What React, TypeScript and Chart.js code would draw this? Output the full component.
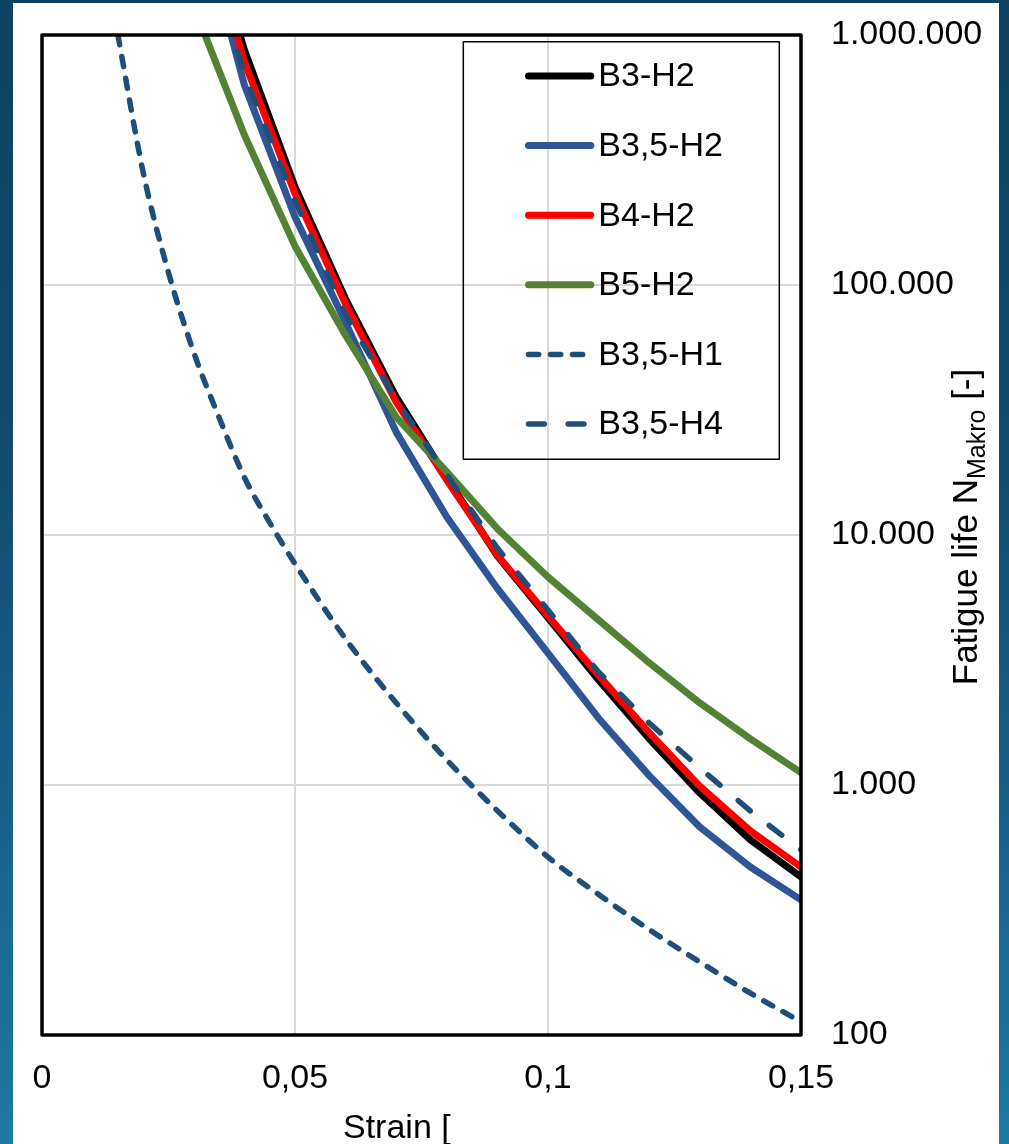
import React, { useEffect, useRef } from 'react';
import { Chart, registerables } from 'chart.js';

Chart.register(...registerables);

// ---- data ----
const STRAIN = [0.03, 0.04, 0.05, 0.06, 0.07, 0.08, 0.09, 0.1, 0.11, 0.12, 0.13, 0.14, 0.15];
const B3_H2 = [4270000, 871000, 247000, 87900, 35700, 17000, 8240, 4660, 2630, 1530, 929, 603, 429];
const B35_H2 = [3600000, 631000, 187000, 70800, 25800, 11800, 6110, 3370, 1850, 1090, 679, 470, 347];
const B4_H2 = [4000000, 780000, 232000, 84000, 34000, 16600, 8300, 4750, 2750, 1620, 990, 655, 470];
const B5_H2 = [1300000, 398000, 143000, 62800, 29600, 17900, 10600, 6790, 4570, 3080, 2130, 1530, 1120];
const B35_H4 = [3500000, 692000, 217000, 76000, 34700, 17400, 8870, 5010, 2830, 1770, 1170, 787, 550];

const STRAIN_H1 = [0.015, 0.02, 0.025, 0.03, 0.035, 0.04, 0.045, 0.05, 0.06, 0.07, 0.08, 0.09, 0.1, 0.11, 0.12, 0.13, 0.14, 0.15];
const B35_H1 = [1000000, 282000, 112000, 53700, 29500, 17000, 11200, 7670, 3840, 2130, 1260, 789, 515, 365, 264, 196, 147, 113];

const SERIES_LABELS = ['B3-H2', 'B3,5-H2', 'B4-H2', 'B5-H2', 'B3,5-H1', 'B3,5-H4'];

const X_TICKS = [0, 0.05, 0.1, 0.15];
const X_TICK_LABELS = ['0', '0,05', '0,1', '0,15'];
const Y_TICKS = [100, 1000, 10000, 100000, 1000000];
const Y_TICK_LABELS = ['100', '1.000', '10.000', '100.000', '1.000.000'];

const X_TITLE = 'Strain [';
const Y_TITLE_MAIN = 'Fatigue life N';
const Y_TITLE_SUB = 'Makro';
const Y_TITLE_END = ' [-]';

const FONT = "'Liberation Sans', Arial, sans-serif";

const toPts = (xs: number[], ys: number[]) => xs.map((x, i) => ({ x, y: ys[i] }));

export default function App() {
  const ref = useRef<HTMLCanvasElement | null>(null);

  useEffect(() => {
    const canvas = ref.current;
    if (!canvas) return;

    const mk = (label: string, data: any[], color: string, width: number, order: number, dash?: number[]) => ({
      label,
      data,
      borderColor: color,
      backgroundColor: color,
      borderWidth: width,
      borderDash: dash || [],
      borderCapStyle: 'round' as const,
      borderJoinStyle: 'round' as const,
      pointRadius: 0,
      pointHoverRadius: 0,
      fill: false,
      tension: 0,
      order,
      clip: 0,
    });

    const datasets: any[] = [
      mk(SERIES_LABELS[0], toPts(STRAIN, B3_H2), '#000000', 7, 6),
      mk(SERIES_LABELS[1], toPts(STRAIN, B35_H2), '#2f5597', 7, 5),
      mk(SERIES_LABELS[2], toPts(STRAIN, B4_H2), '#ff0000', 7, 4),
      mk(SERIES_LABELS[3], toPts(STRAIN, B5_H2), '#548235', 7, 3),
      { ...mk(SERIES_LABELS[4], toPts(STRAIN_H1, B35_H1), '#1f4e79', 5.5, 2, [10.2, 11.8]), cubicInterpolationMode: 'monotone' },
      mk(SERIES_LABELS[5], toPts(STRAIN, B35_H4), '#1f4e79', 5.5, 1, [15.8, 23.9]),
    ];

    const overlay = {
      id: 'overlay',
      afterDatasetsDraw(chart: any) {
        const { ctx, chartArea } = chart;
        const { left, right, top, bottom } = chartArea;
        ctx.save();
        // plot border
        ctx.strokeStyle = '#000000';
        ctx.lineWidth = 3.5;
        ctx.lineJoin = 'round';
        ctx.strokeRect(left, top, right - left, bottom - top);

        // legend
        ctx.lineWidth = 1.5;
        ctx.strokeRect(463.3, 41.7, 316, 417.6);
        chart.data.datasets.forEach((ds: any, i: number) => {
          const y = 76 + i * 69.6;
          ctx.beginPath();
          ctx.setLineDash(ds.borderDash || []);
          ctx.lineDashOffset = 0;
          ctx.lineCap = 'round';
          ctx.strokeStyle = ds.borderColor;
          ctx.lineWidth = ds.borderWidth;
          ctx.moveTo(528.5, y);
          ctx.lineTo(ds.borderDash && ds.borderDash.length ? 586 : 590.8, y);
          ctx.stroke();
          ctx.setLineDash([]);
          ctx.fillStyle = '#000000';
          ctx.font = `34px ${FONT}`;
          ctx.textAlign = 'left';
          ctx.textBaseline = 'middle';
          ctx.fillText(ds.label, 598.3, y + 1);
        });

        // x title
        ctx.fillStyle = '#000000';
        ctx.font = `34px ${FONT}`;
        ctx.textAlign = 'left';
        ctx.textBaseline = 'alphabetic';
        ctx.fillText(X_TITLE, 343, 1138);

        // y title (rotated, with subscript)
        const big = `35px ${FONT}`;
        const small = `25px ${FONT}`;
        ctx.font = big;
        const w1 = ctx.measureText(Y_TITLE_MAIN).width;
        const w3 = ctx.measureText(Y_TITLE_END).width;
        ctx.font = small;
        const w2 = ctx.measureText(Y_TITLE_SUB).width;
        const total = w1 + w2 + w3;
        const cy = 527;
        ctx.translate(977, cy + total / 2);
        ctx.rotate(-Math.PI / 2);
        ctx.font = big;
        ctx.fillText(Y_TITLE_MAIN, 0, 0);
        ctx.font = small;
        ctx.fillText(Y_TITLE_SUB, w1, 8);
        ctx.font = big;
        ctx.fillText(Y_TITLE_END, w1 + w2, 0);
        ctx.restore();
      },
    };

    const chart = new Chart(canvas, {
      type: 'line',
      data: { datasets },
      options: {
        responsive: false,
        animation: false,
        devicePixelRatio: 1,
        layout: { padding: { left: 42, top: 35, right: 0, bottom: 0 } },
        plugins: {
          legend: { display: false },
          tooltip: { enabled: false },
          title: { display: false },
        },
        events: [],
        scales: {
          x: {
            type: 'linear',
            min: 0,
            max: 0.15,
            afterBuildTicks: (s: any) => {
              s.ticks = X_TICKS.map((v) => ({ value: v }));
            },
            afterFit: (s: any) => {
              s.height = 109;
              s.paddingLeft = 0;
              s.paddingRight = 0;
            },
            ticks: {
              autoSkip: false,
              maxRotation: 0,
              minRotation: 0,
              padding: 23,
              color: '#000000',
              font: { family: FONT, size: 34 },
              callback: (_v: any, i: number) => X_TICK_LABELS[i],
            },
            grid: { color: '#d9d9d9', lineWidth: 2, drawTicks: false },
            border: { display: false },
          },
          y: {
            type: 'logarithmic',
            position: 'right',
            min: 100,
            max: 1000000,
            afterBuildTicks: (s: any) => {
              s.ticks = Y_TICKS.map((v) => ({ value: v, major: true }));
            },
            afterFit: (s: any) => {
              s.width = 208;
              s.paddingTop = 0;
              s.paddingBottom = 0;
            },
            ticks: {
              autoSkip: false,
              padding: 30,
              color: '#000000',
              font: { family: FONT, size: 34 },
              callback: (_v: any, i: number) => Y_TICK_LABELS[i],
            },
            grid: { color: '#d9d9d9', lineWidth: 2, drawTicks: false },
            border: { display: false },
          },
        },
      },
      plugins: [overlay],
    } as any);

    return () => {
      chart.destroy();
    };
  }, []);

  return (
    <div
      style={{
        position: 'absolute',
        left: 0,
        top: 0,
        width: 1009,
        height: 1144,
        overflow: 'hidden',
        background: 'linear-gradient(180deg, #0f4260 0%, #12496a 35%, #17608a 70%, #1f7aa3 100%)',
      }}
    >
      <div style={{ position: 'absolute', left: 13, top: 3, width: 986, height: 1141, background: '#ffffff' }} />
      <canvas
        ref={ref}
        width={1009}
        height={1144}
        style={{ position: 'absolute', left: 0, top: 0, width: 1009, height: 1144 }}
      />
    </div>
  );
}
